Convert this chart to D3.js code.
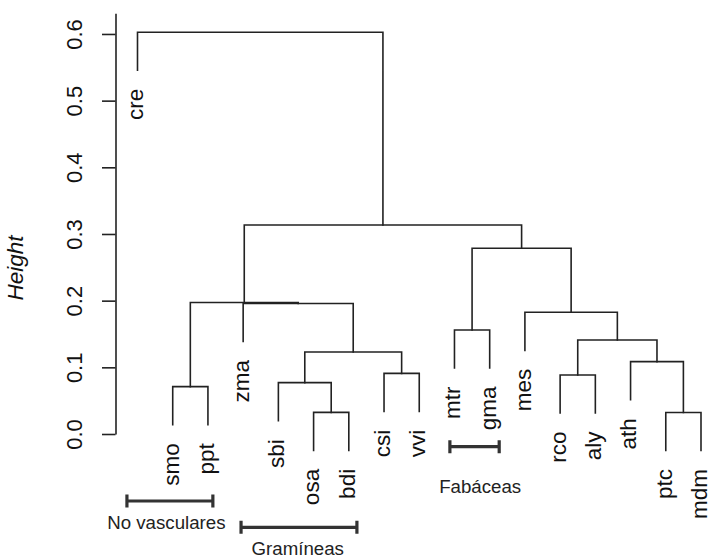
<!DOCTYPE html>
<html>
<head>
<meta charset="utf-8">
<script src="https://cdn.jsdelivr.net/npm/d3@7/dist/d3.min.js"></script>
<style>
  html, body { margin: 0; padding: 0; background: #fff; }
  svg { display: block; }
</style>
</head>
<body>
<svg id="chart" width="711" height="558"></svg>
<script>
// ---- Data ----
const leaves = ["cre","smo","ppt","zma","sbi","osa","bdi","csi","vvi","mtr","gma","mes","rco","aly","ath","ptc","mdm"];
// hclust-style merges: each merge joins mergeA[i] and mergeB[i] at mergeHeight[i]; node "n{i+1}" is its result
const mergeA = ["osa","ptc","smo","sbi","rco","csi","ath","n4","n5","mtr","mes","zma","n3","n10","n13","cre"];
const mergeB = ["bdi","mdm","ppt","n1","aly","vvi","n2","n6","n7","gma","n9","n8","n12","n11","n14","n15"];
const mergeHeight = [0.0325,0.0322,0.0710,0.0770,0.0885,0.0910,0.1085,0.1230,0.1410,0.1560,0.1825,0.1957,0.1972,0.2785,0.3135,0.6025];
const yTicks = [0.0,0.1,0.2,0.3,0.4,0.5,0.6];
const yTickLabels = ["0.0","0.1","0.2","0.3","0.4","0.5","0.6"];
const yLabel = "Height";
// annotation brackets (leaf-index units along x, height units along y)
const groupNames = ["No vasculares","Gramíneas","Fabáceas"];
const groupStart = [-0.30, 2.94, 8.87];
const groupEnd   = [ 2.14, 6.23, 10.27];
const groupBarH  = [-0.1005, -0.1400, -0.0190];
const groupTextX = [ 0.82, 4.55, 9.73];
const groupTextH = [-0.1430, -0.1815, -0.0890];

// ---- Layout ----
const svg = d3.select("#chart");
const axisX = 115.5;
const x = d3.scaleLinear().domain([0, leaves.length - 1]).range([137.5, 701]);
const y = d3.scaleLinear().domain([0, 0.631]).range([434, 13.3]);
const ink = "#222";
const font = "'Liberation Sans', Arial, Helvetica, sans-serif";

// hang as in R plot.hclust(hang = 0.1)
const hang = 0.1 * (d3.max(mergeHeight) - d3.min(mergeHeight));

// node positions
const pos = {};   // name -> {x, h, leaf}
leaves.forEach((l, i) => { pos[l] = { x: x(i), leaf: true }; });
mergeA.forEach((a, i) => {
  const b = mergeB[i];
  const h = mergeHeight[i];
  pos["n" + (i + 1)] = { x: (pos[a].x + pos[b].x) / 2, h: h, leaf: false };
});
// set leaf end heights from parents
mergeA.forEach((a, i) => {
  [a, mergeB[i]].forEach(c => {
    if (pos[c].leaf) pos[c].h = mergeHeight[i] - hang;
  });
});

const g = svg.append("g");
// dendrogram segments
mergeA.forEach((a, i) => {
  const b = mergeB[i];
  const h = mergeHeight[i];
  const pa = pos[a], pb = pos[b];
  const path = d3.path();
  path.moveTo(pa.x, y(pa.h));
  path.lineTo(pa.x, y(h));
  path.lineTo(pb.x, y(h));
  path.lineTo(pb.x, y(pb.h));
  g.append("path")
    .attr("d", path.toString())
    .attr("fill", "none")
    .attr("stroke", ink)
    .attr("stroke-width", 1.6)
    .attr("stroke-linecap", "square");
});

// leaf labels
leaves.forEach(l => {
  const p = pos[l];
  g.append("text")
    .attr("transform", `translate(${p.x},${y(p.h) + 18.5}) rotate(-90)`)
    .attr("text-anchor", "end")
    .attr("dy", "0.26em")
    .attr("font-family", font)
    .attr("font-size", 22.5)
    .attr("fill", "#111")
    .text(l);
});

// y axis
const axis = d3.axisLeft(y)
  .tickValues(yTicks)
  .tickFormat((d, i) => yTickLabels[i])
  .tickSize(13.5)
  .tickSizeOuter(0);
const ax = svg.append("g")
  .attr("transform", `translate(${axisX},0)`)
  .call(axis);
ax.select(".domain").attr("stroke", ink).attr("stroke-width", 1.6);
ax.selectAll(".tick line").attr("stroke", ink).attr("stroke-width", 1.6);
ax.selectAll(".tick text")
  .attr("x", null).attr("dy", null)
  .attr("transform", "translate(-33.5,0) rotate(-90)")
  .attr("text-anchor", "middle")
  .attr("font-family", font)
  .attr("font-size", 22)
  .attr("fill", "#111");

// y label
svg.append("text")
  .attr("transform", `translate(23,268) rotate(-90)`)
  .attr("text-anchor", "middle")
  .attr("font-family", font)
  .attr("font-style", "italic")
  .attr("font-size", 22.5)
  .attr("fill", "#111")
  .text(yLabel);

// group brackets
const ann = svg.append("g");
groupNames.forEach((name, i) => {
  const x0 = x(groupStart[i]), x1 = x(groupEnd[i]), yb = y(groupBarH[i]);
  const bp = d3.path();
  bp.moveTo(x0, yb); bp.lineTo(x1, yb);
  bp.moveTo(x0, yb - 6.5); bp.lineTo(x0, yb + 6.5);
  bp.moveTo(x1, yb - 6.5); bp.lineTo(x1, yb + 6.5);
  ann.append("path")
    .attr("d", bp.toString())
    .attr("fill", "none")
    .attr("stroke", "#333")
    .attr("stroke-width", 3.2);
  ann.append("text")
    .attr("x", x(groupTextX[i]))
    .attr("y", y(groupTextH[i]))
    .attr("text-anchor", "middle")
    .attr("font-family", font)
    .attr("font-size", 18.7)
    .attr("fill", "#222")
    .text(name);
});
</script>
</body>
</html>
